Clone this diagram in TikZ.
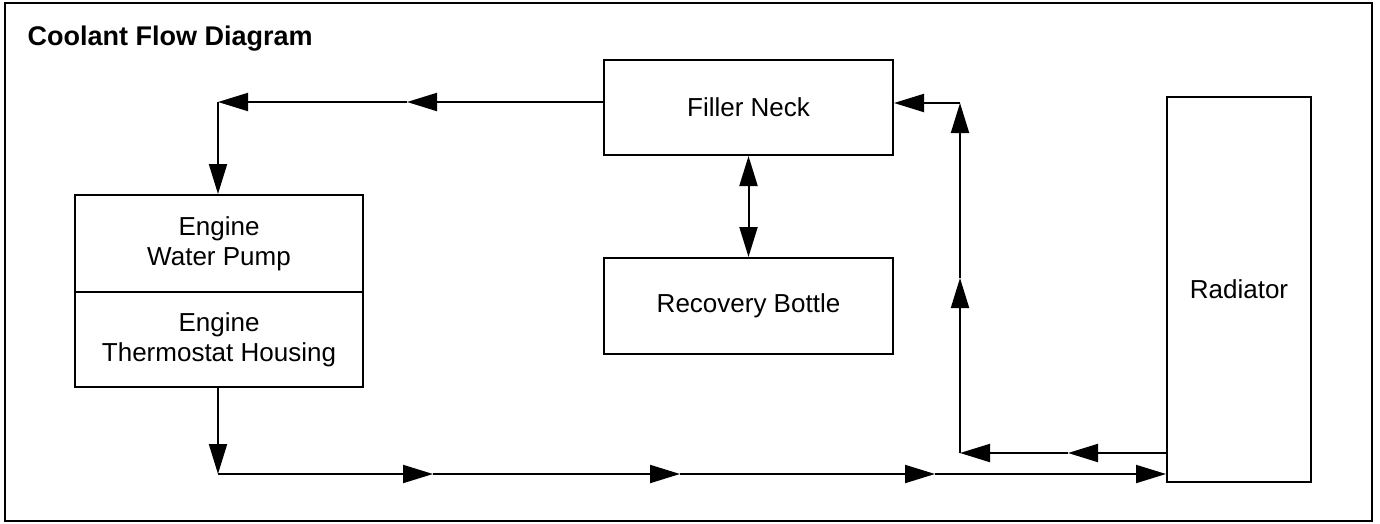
\documentclass[tikz,border=0pt]{standalone}
\usepackage{fontspec}
\setmainfont{Liberation Sans}
\usepackage{tikz}
\usetikzlibrary{arrows.meta}

\tikzset{
  box/.style={draw,line width=2pt,inner sep=0pt,align=center,font=\fontsize{26}{30}\selectfont},
  tip/.tip={Triangle[length=30pt,width=18pt]},
  flow/.style={line width=2pt,-tip},
  twoway/.style={line width=2pt,tip-tip}
}

\begin{document}
\begin{tikzpicture}[x=1pt,y=-1pt]

\useasboundingbox (0,0) rectangle (1380,523);
\draw [line width=2.5pt] (5,3) rectangle (1372,521);

\node [anchor=base west,font=\fontsize{27}{30}\selectfont\bfseries] (title) at (24,45) {Coolant Flow Diagram};

% boxes
\node [box,minimum width=289pt,minimum height=95pt] (fillerneck) at (748.5,107.5) {Filler Neck};
\node [box,minimum width=289pt,minimum height=96pt] (bottle) at (748.5,306) {Recovery Bottle};
\node [box,minimum width=288pt,minimum height=97pt] (pump) at (219,243.5) {Engine\\Water Pump};
\node [box,minimum width=288pt,minimum height=95pt] (thermo) at (219,339.5) {Engine\\Thermostat Housing};
\node [box,minimum width=144pt,minimum height=385pt] (radiator) at (1239,289.5) {Radiator};

% corners and mid arrows
\coordinate (topleft) at (218,102);
\coordinate (top1) at (407,102);
\coordinate (botleft) at (218,474);
\coordinate (bot1) at (433,474);
\coordinate (bot2) at (680,474);
\coordinate (bot3) at (935,474);
\coordinate (ret1) at (1068,453);
\coordinate (retcorner) at (960,453);
\coordinate (up1) at (960,278);
\coordinate (topright) at (960,103);

% filler neck -> pump
\draw [flow] (fillerneck.west |- topleft) -- (top1);
\draw [flow] (top1) -- (topleft);
\draw [flow] (topleft) -- (topleft |- pump.north);

% thermostat -> radiator
\draw [flow] (thermo.south -| botleft) -- (botleft);
\draw [flow] (botleft) -- (bot1);
\draw [flow] (bot1) -- (bot2);
\draw [flow] (bot2) -- (bot3);
\draw [flow] (bot3) -- (radiator.west |- bot3);

% radiator -> filler neck
\draw [flow] (radiator.west |- ret1) -- (ret1);
\draw [flow] (ret1) -- (retcorner);
\draw [flow] (retcorner) -- (up1);
\draw [flow] (up1) -- (topright);
\draw [flow] (topright) -- (fillerneck.east |- topright);

% filler neck <-> recovery bottle
\draw [twoway] (fillerneck.south) -- (bottle.north);

\end{tikzpicture}
\end{document}
